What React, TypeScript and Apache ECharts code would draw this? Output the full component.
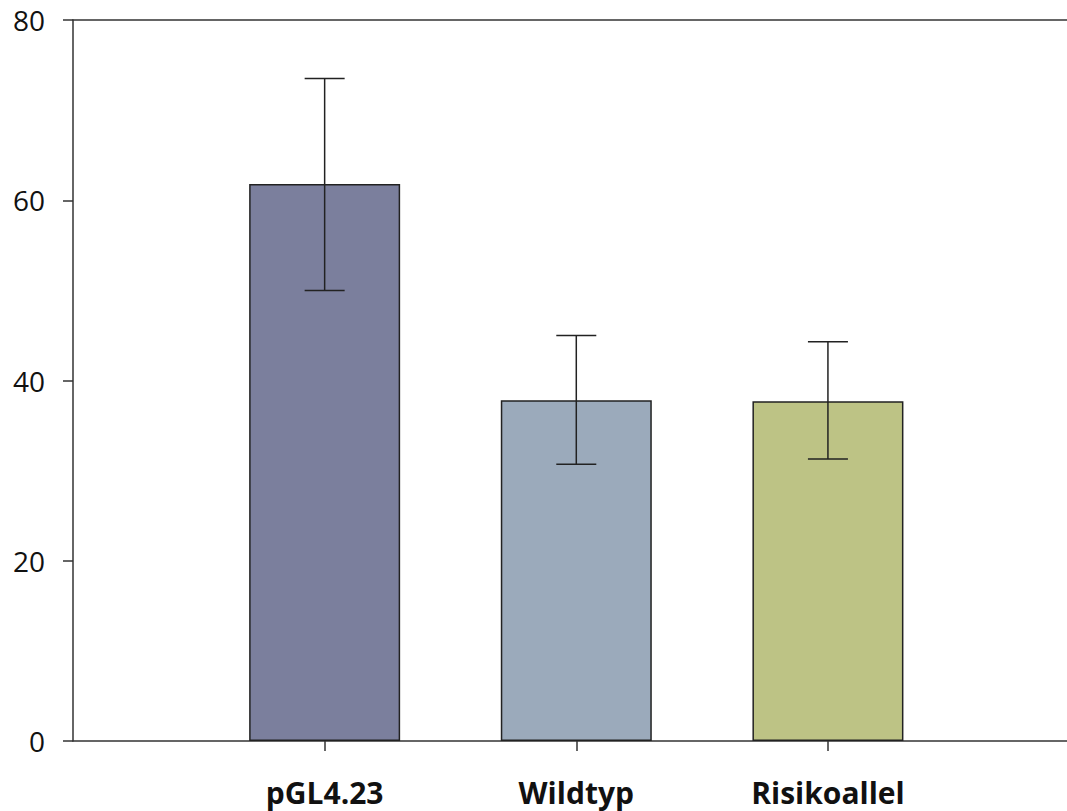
import React, { useEffect, useRef } from "react";
import * as echarts from "echarts";

const categories = ["pGL4.23", "Wildtyp", "Risikoallel"];
const positions = [1, 2, 3];
const means = [61.8, 37.8, 37.7];
const upper = [73.5, 45.0, 44.3];
const lower = [50.0, 30.7, 31.3];
const colors = ["#7b7f9d", "#9baabb", "#bdc385"];
const yTicks = [0, 20, 40, 60, 80];

export default function App() {
  const ref = useRef<HTMLDivElement>(null);
  useEffect(() => {
    if (!ref.current) return;
    const chart = echarts.init(ref.current, undefined, { renderer: "svg" });
    const barData = positions.map((p, i) => ({
      value: [p, means[i]],
      itemStyle: { color: colors[i] },
    }));
    const errData = positions.map((p, i) => [p, lower[i], upper[i]]);
    chart.setOption({
      animation: false,
      backgroundColor: "#ffffff",
      grid: { left: 73, right: 0, top: 20, bottom: 70 },
      xAxis: [
        {
          type: "value",
          min: 0,
          max: 3.95,
          interval: 1,
          splitLine: { show: false },
          axisLine: { show: true, lineStyle: { color: "#333", width: 1.5 } },
          axisTick: {
            show: true,
            length: 10,
            customValues: positions,
            lineStyle: { color: "#333", width: 1.5 },
          },
          axisLabel: {
            customValues: positions,
            margin: 36,
            fontFamily: "Open Sans",
            fontWeight: "bold",
            fontSize: 30,
            color: "#111",
            formatter: (v: number) => {
              const idx = positions.indexOf(Math.round(v));
              return idx >= 0 ? categories[idx] : "";
            },
          },
        },
        {
          type: "value",
          position: "top",
          min: 0,
          max: 3.95,
          splitLine: { show: false },
          axisLine: { show: true, onZero: false, lineStyle: { color: "#333", width: 1.5 } },
          axisTick: { show: false },
          axisLabel: { show: false },
        },
      ],
      yAxis: {
        type: "value",
        min: 0,
        max: 80,
        interval: 20,
        splitLine: { show: false },
        axisLine: { show: true, lineStyle: { color: "#333", width: 1.5 } },
        axisTick: { show: true, length: 10, lineStyle: { color: "#333", width: 1.5 } },
        axisLabel: {
          margin: 28,
          fontFamily: "Open Sans",
          fontSize: 28,
          color: "#111",
          formatter: (v: number) => (yTicks.includes(v) ? String(v) : ""),
        },
      },
      series: [
        {
          type: "bar",
          data: barData,
          barWidth: 151,
          itemStyle: { borderColor: "#222", borderWidth: 1.5 },
        },
        {
          type: "custom",
          data: errData,
          z: 10,
          renderItem: (params: any, api: any) => {
            const x = api.value(0);
            const lo = api.coord([x, api.value(1)]);
            const hi = api.coord([x, api.value(2)]);
            const half = 20;
            const style = { stroke: "#222", lineWidth: 1.5 };
            return {
              type: "group",
              children: [
                { type: "line", shape: { x1: hi[0], y1: hi[1], x2: lo[0], y2: lo[1] }, style },
                { type: "line", shape: { x1: hi[0] - half, y1: hi[1], x2: hi[0] + half, y2: hi[1] }, style },
                { type: "line", shape: { x1: lo[0] - half, y1: lo[1], x2: lo[0] + half, y2: lo[1] }, style },
              ],
            };
          },
        },
      ],
    });
    return () => chart.dispose();
  }, []);
  return (
    <div
      ref={ref}
      style={{ position: "absolute", left: 0, top: 0, width: 1067, height: 811 }}
    />
  );
}
